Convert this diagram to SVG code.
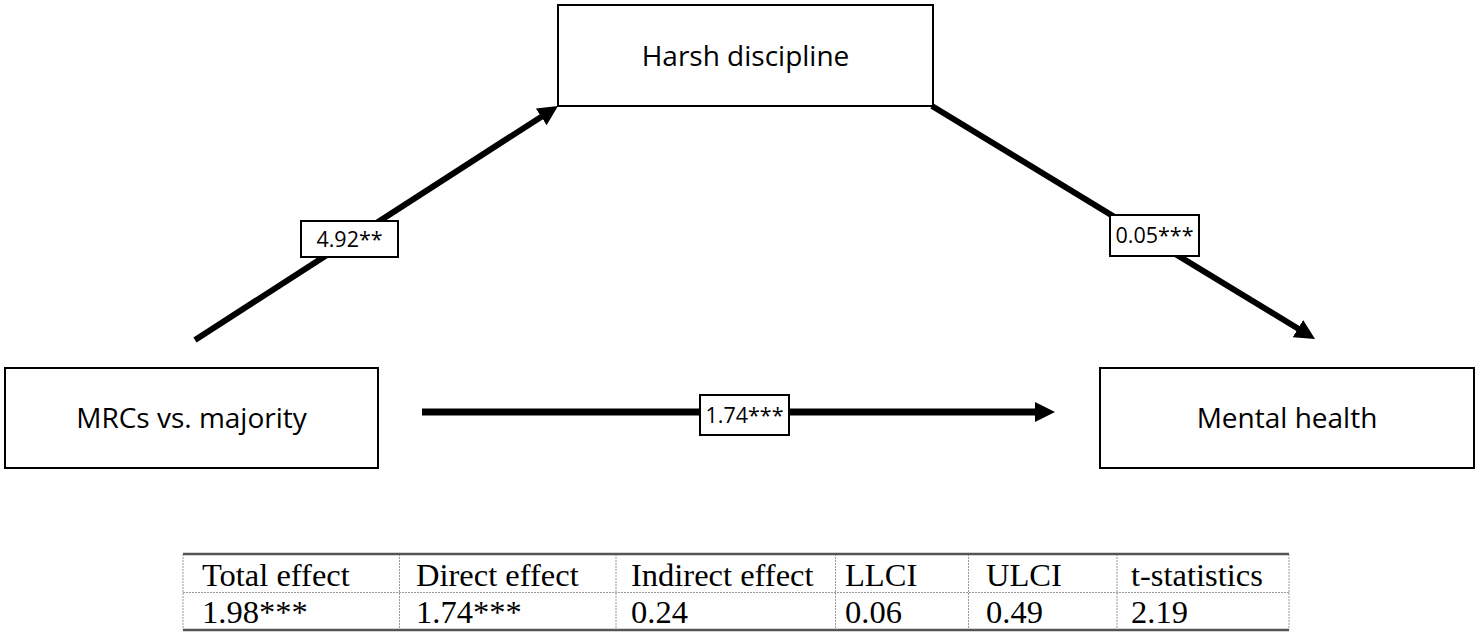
<svg xmlns="http://www.w3.org/2000/svg" width="1480" height="634" viewBox="0 0 1480 634">
<style>
.node{fill:#fff;stroke:#000;stroke-width:2}
.lbl{fill:#fff;stroke:#000;stroke-width:2}
.nt{font-family:"Open Sans","Noto Sans",sans-serif;font-size:28px;fill:#000;text-anchor:middle}
.lt{font-family:"Open Sans","Noto Sans",sans-serif;font-size:21.5px;fill:#000;text-anchor:middle}
.conn{stroke:#000;fill:none}
.tt{font-family:"Liberation Serif","Times New Roman",serif;font-size:32.5px;fill:#000}
.thick{stroke:#555;stroke-width:2.5}
.dot{stroke:#999;stroke-width:1;stroke-dasharray:2 1}
</style>
<defs>
<marker id="ah" markerUnits="userSpaceOnUse" markerWidth="22" markerHeight="20" refX="10" refY="10" orient="auto">
<path d="M0,0 L20,10 L0,20 z" fill="#000"/>
</marker>
</defs>
<rect width="1480" height="634" fill="#fff"/>
<g id="connectors">
<line class="conn" x1="195" y1="340" x2="549.6" y2="111.4" stroke-width="6" marker-end="url(#ah)"/>
<line class="conn" x1="932" y1="106" x2="1306.5" y2="333.8" stroke-width="6" marker-end="url(#ah)"/>
<line class="conn" x1="422" y1="412" x2="1045" y2="412" stroke-width="7" marker-end="url(#ah)"/>
<g id="label-a">
<rect class="lbl" x="301" y="221" width="97" height="36"/>
<text class="lt" x="349.5" y="247">4.92**</text>
</g>
<g id="label-b">
<rect class="lbl" x="1110" y="215" width="89" height="41"/>
<text class="lt" x="1154.5" y="243">0.05***</text>
</g>
<g id="label-c">
<rect class="lbl" x="700" y="395" width="89" height="40"/>
<text class="lt" x="744.5" y="423">1.74***</text>
</g>
</g>
<g id="harsh-discipline">
<rect class="node" x="558" y="5" width="375" height="101"/>
<text class="nt" x="745.5" y="66">Harsh discipline</text>
</g>
<g id="mrcs-vs-majority">
<rect class="node" x="5" y="368" width="373" height="100"/>
<text class="nt" x="191.5" y="428">MRCs vs. majority</text>
</g>
<g id="mental-health">
<rect class="node" x="1100" y="368" width="374" height="100"/>
<text class="nt" x="1287" y="428">Mental health</text>
</g>
<g id="table">
<line class="dot" x1="183" y1="554" x2="183" y2="630"/>
<line class="dot" x1="399.5" y1="554" x2="399.5" y2="630"/>
<line class="dot" x1="616" y1="554" x2="616" y2="630"/>
<line class="dot" x1="835.5" y1="554" x2="835.5" y2="630"/>
<line class="dot" x1="968.5" y1="554" x2="968.5" y2="630"/>
<line class="dot" x1="1117" y1="554" x2="1117" y2="630"/>
<line class="dot" x1="1289" y1="554" x2="1289" y2="630"/>
<line class="dot" x1="183" y1="592.5" x2="1289" y2="592.5"/>
<line class="thick" x1="183" y1="554" x2="1289" y2="554"/>
<line class="thick" x1="183" y1="630" x2="1289" y2="630"/>
<text class="tt" x="202" y="586">Total effect</text>
<text class="tt" x="416" y="586">Direct effect</text>
<text class="tt" x="631" y="586">Indirect effect</text>
<text class="tt" x="845" y="586">LLCI</text>
<text class="tt" x="986" y="586">ULCI</text>
<text class="tt" x="1131" y="586">t-statistics</text>
<text class="tt" x="202" y="623">1.98***</text>
<text class="tt" x="416" y="623">1.74***</text>
<text class="tt" x="631" y="623">0.24</text>
<text class="tt" x="845" y="623">0.06</text>
<text class="tt" x="986" y="623">0.49</text>
<text class="tt" x="1131" y="623">2.19</text>
</g>
</svg>
